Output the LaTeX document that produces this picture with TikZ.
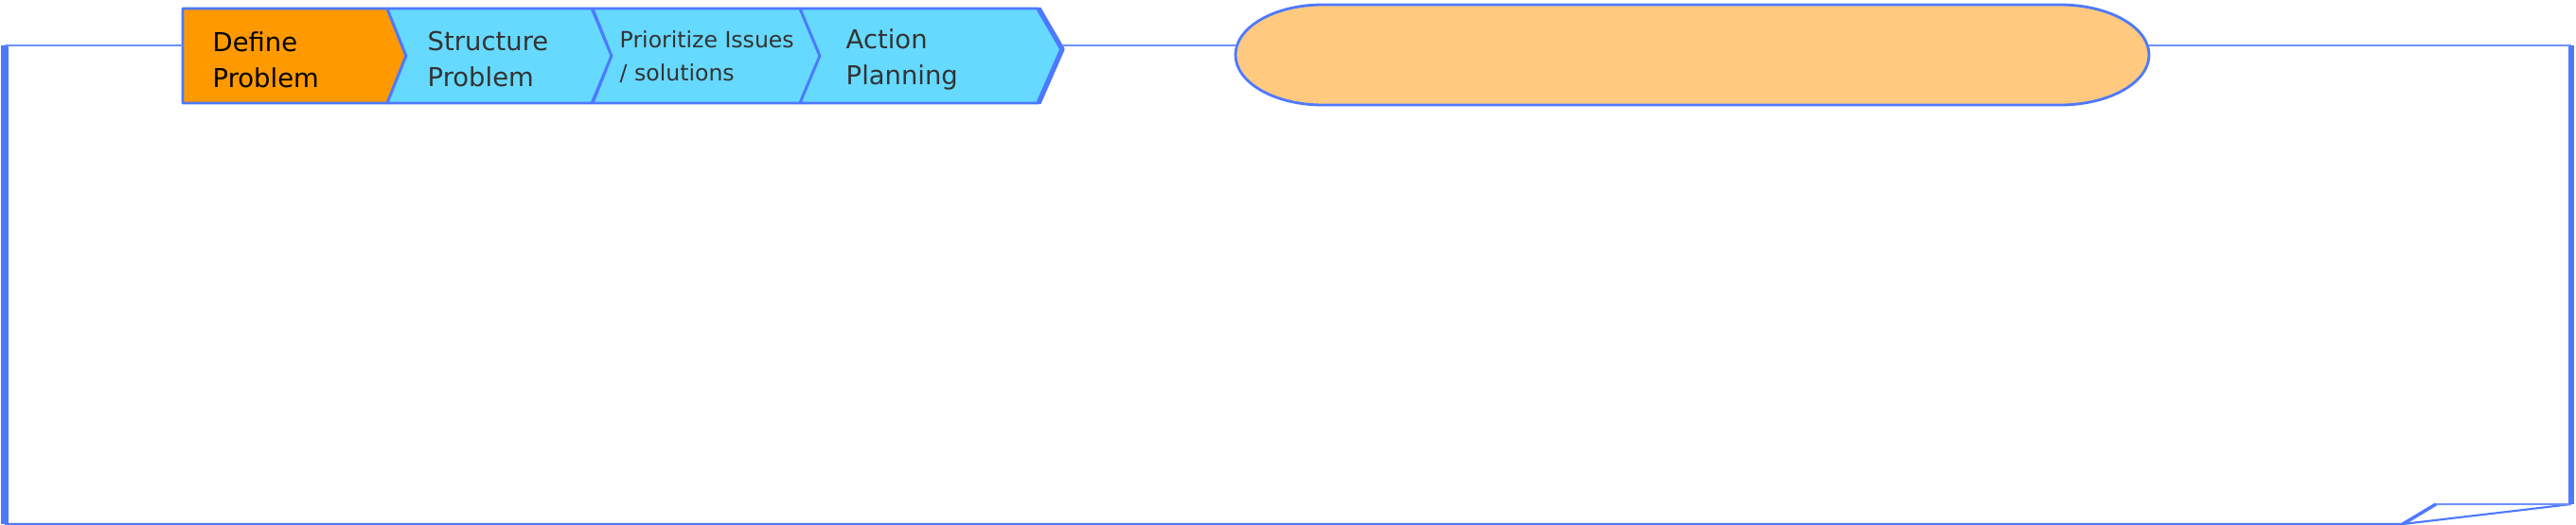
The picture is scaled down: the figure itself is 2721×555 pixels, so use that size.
\documentclass[tikz,border=0pt]{standalone}
\usepackage{fontspec}
\setmainfont{DejaVu Sans}
\usepackage{xcolor}
\definecolor{frameblue}{RGB}{77,121,255}
\definecolor{lineblue}{RGB}{110,145,255}
\definecolor{chevblue}{RGB}{102,217,255}
\definecolor{defineorange}{RGB}{255,153,0}
\definecolor{peach}{RGB}{255,201,128}
\definecolor{darktext}{RGB}{51,51,51}

\begin{document}
\begin{tikzpicture}[x=0.01cm, y=-0.01cm, line join=round,
    chev/.style={draw=frameblue, line width=0.8pt, fill=chevblue},
    thinline/.style={lineblue, line width=0.45pt},
    lbl/.style={anchor=west, inner sep=0pt, align=left, text=darktext,
      font=\fontsize{7.8}{10.8}\selectfont}]
  \useasboundingbox (0,0) rectangle (2721,555);
  % frame
  \draw[frameblue, line width=2.2pt] (5,48) coordinate (TL) -- (5,554) coordinate (BL);
  \draw[frameblue, line width=0.6pt] (BL) -- (2538,554) coordinate (F1)
        -- (2716,533) coordinate (F3);
  \draw[frameblue, line width=1pt] (F1) -- (2573,533) coordinate (F2);
  \draw[thinline] (F2) -- (F3);
  \draw[frameblue, line width=1.9pt] (2716,48) coordinate (TR) -- (F3);
  % chevrons
  \draw[chev, fill=defineorange] (193,9) coordinate (D1) -- (409,9) -- (429,59)
        -- (409,109) -- (193,109) -- cycle;
  \draw[chev] (409,9) -- (625,9) -- (646,59) -- (625,109) -- (409,109) -- (429,59) -- cycle;
  \draw[chev] (626,9) -- (845,9) -- (866,59) -- (845,109) -- (626,109) -- (646,59) -- cycle;
  \draw[chev] (845,9) -- (1097,9) -- (1122,52) coordinate (A1) -- (1097,109)
        -- (845,109) -- (866,59) -- cycle;
  \draw[frameblue, line width=1.5pt] (1097,9) -- (A1) -- (1097,109);
  % pill
  \draw[draw=frameblue, line width=0.8pt, fill=peach] (1397,5) -- (2176,5)
        arc[start angle=-90, end angle=90, x radius=94, y radius=53]
        -- (1397,111) arc[start angle=90, end angle=270, x radius=92, y radius=53] -- cycle;
  \coordinate (P1) at (1305,48);
  \coordinate (P2) at (2270,48);
  % top line
  \draw[thinline] (TL) -- (193,48);
  \draw[thinline] (1122,48) -- (P1);
  \draw[thinline] (P2) -- (TR);
  % labels
  \node[lbl, text=black] (define) at (224,63) {Define\\Problem};
  \node[lbl] (structure) at (451,63) {Structure\\Problem};
  \node[lbl, font=\fontsize{6.7}{9.8}\selectfont] (prioritize) at (654,60) {Prioritize Issues\\/ solutions};
  \node[lbl] (action) at (893,63) {Action\\Planning};
\end{tikzpicture}
\end{document}
